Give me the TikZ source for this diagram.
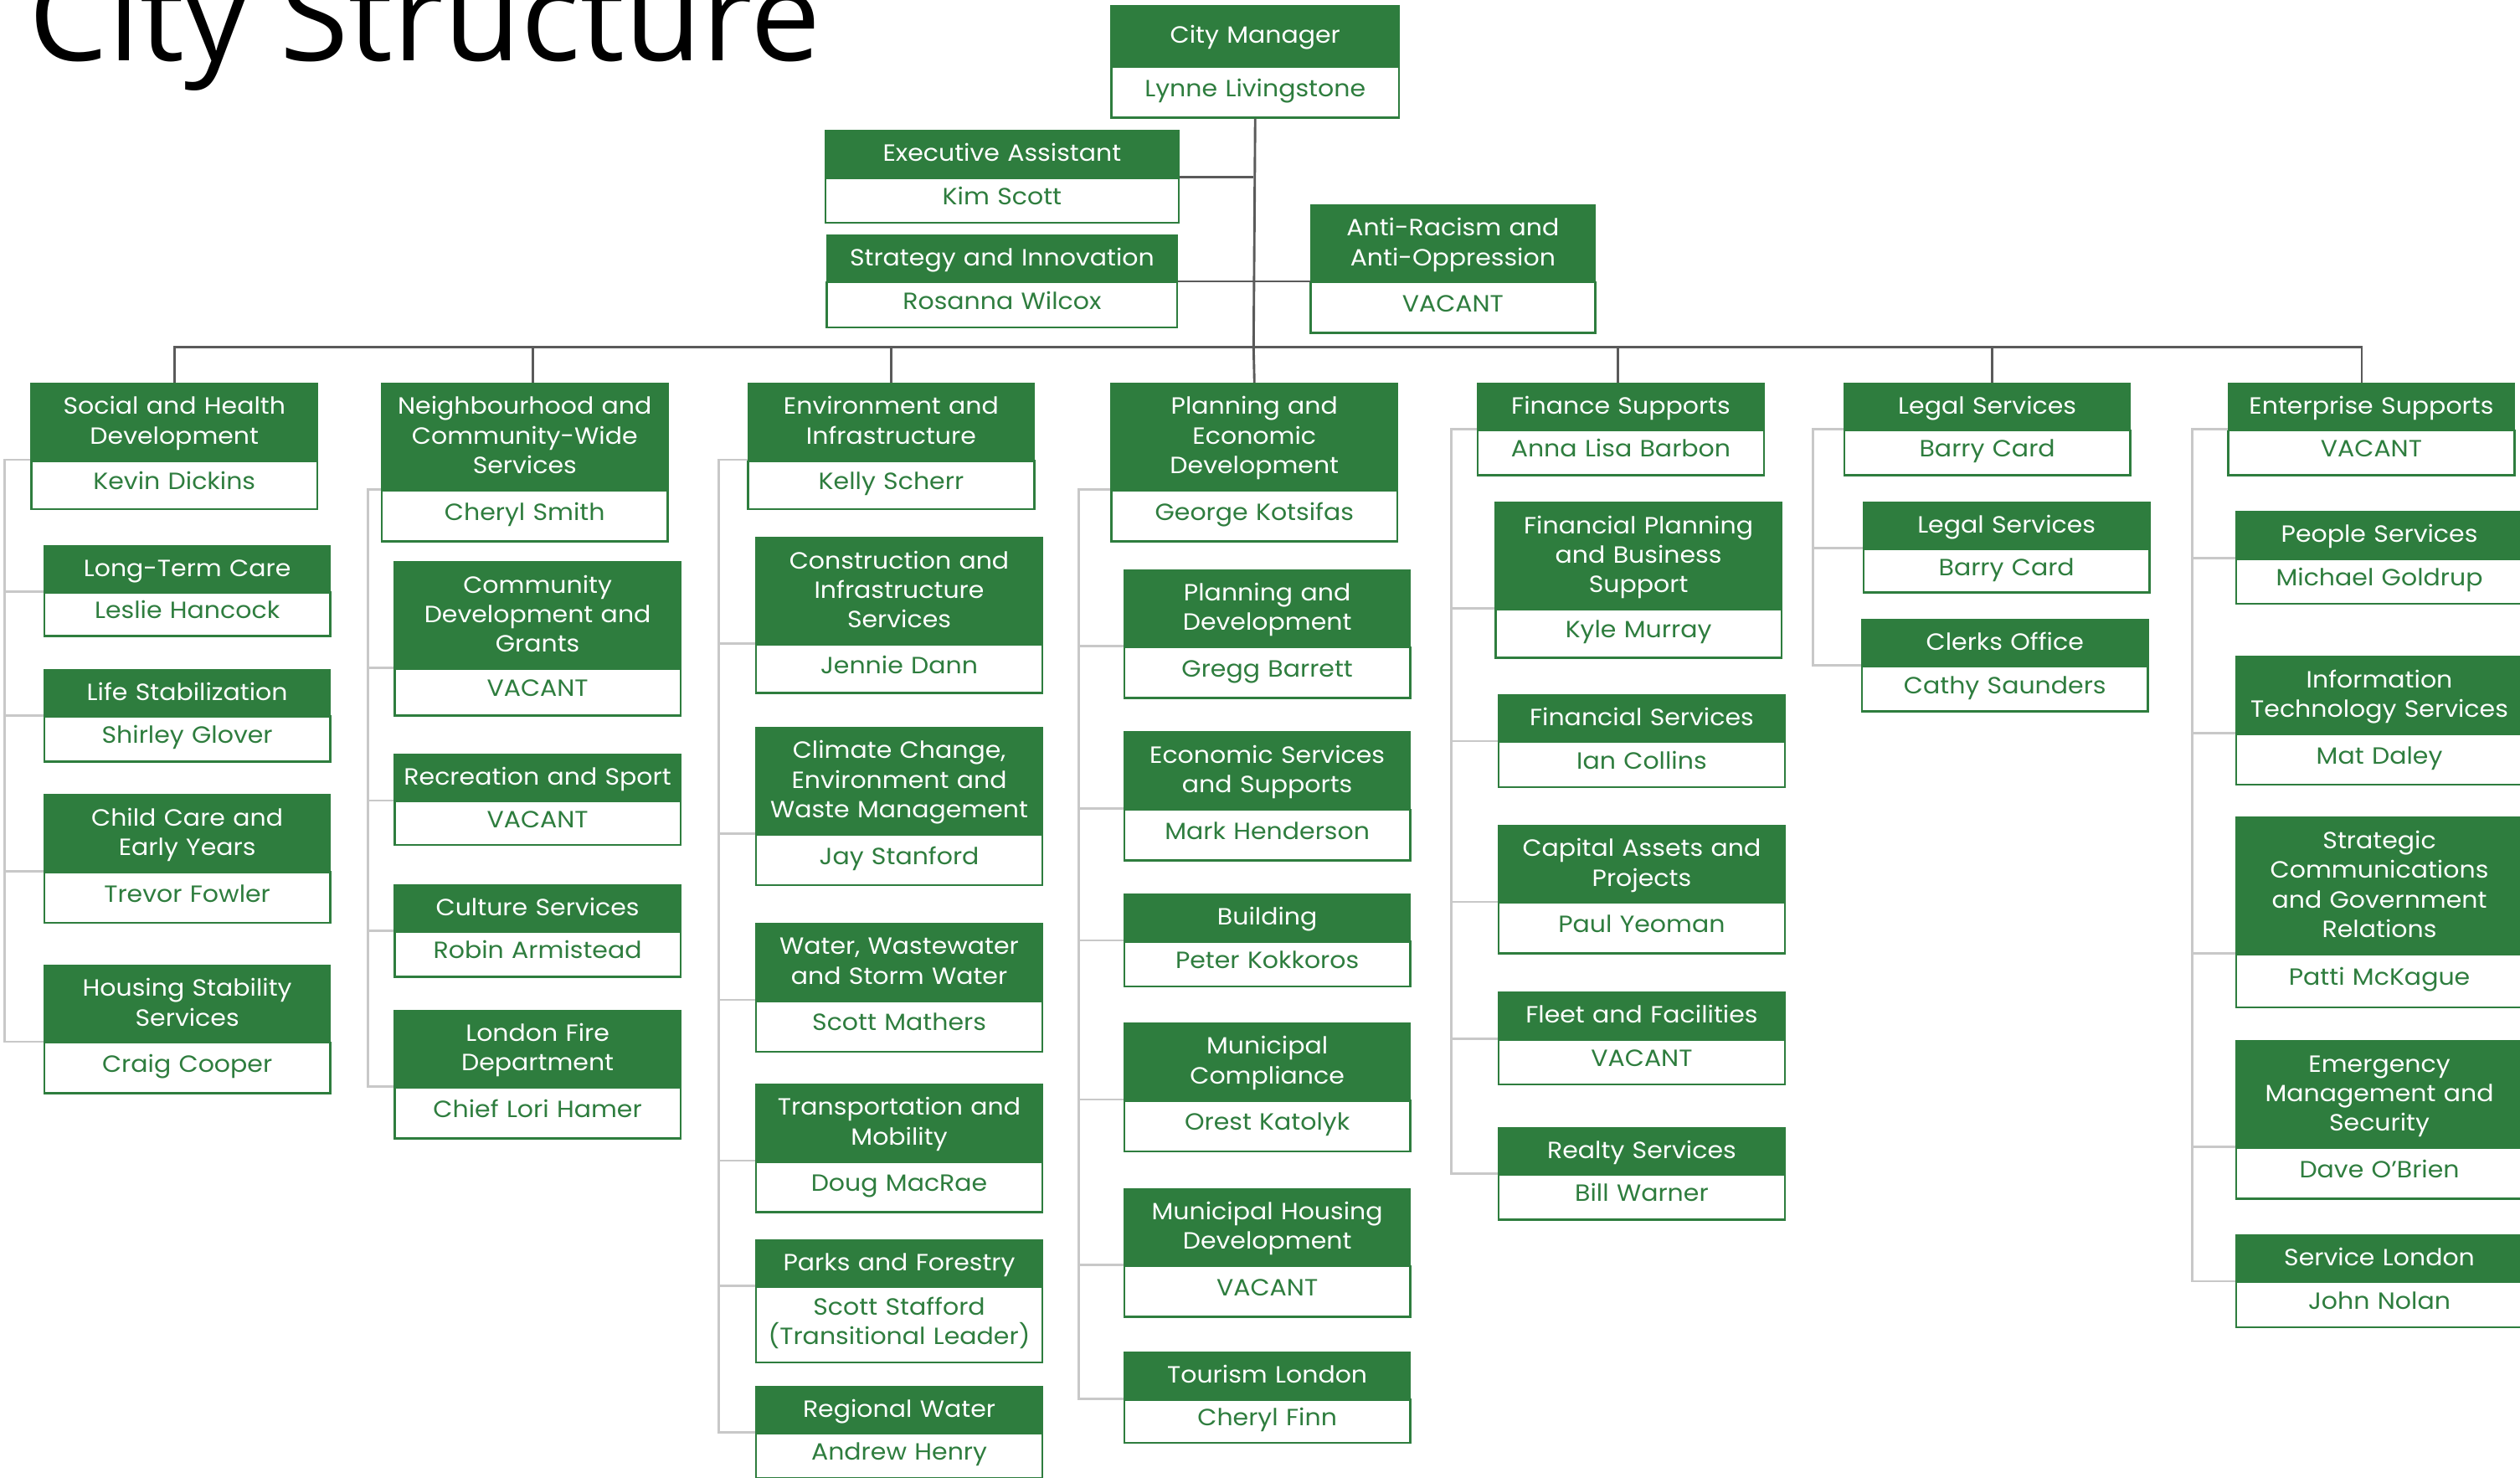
\documentclass[tikz,border=0pt]{standalone}
\usepackage{fontspec}
\setmainfont{Poppins}[FakeStretch=1.07]
\newfontfamily\titlefont{Open Sans}
\usetikzlibrary{positioning}

\definecolor{orggreen}{RGB}{46,125,62}
\definecolor{busgray}{RGB}{90,90,90}
\definecolor{linkgray}{RGB}{200,200,200}

\tikzset{
  head/.style={anchor=north west, fill=orggreen, draw=orggreen, line width=1pt, text=white,
    text width=172pt, inner xsep=3pt, inner ysep=1pt, align=center, minimum height=28pt,
    text height=12pt, text depth=2pt, font=\fontsize{14.6}{18.4}\selectfont},
  who/.style={fill=white, draw=orggreen, line width=1.3pt, text=orggreen,
    text width=172pt, inner xsep=3pt, inner ysep=1pt, align=center, minimum height=28pt,
    text height=12pt, text depth=6.5pt, font=\fontsize{14.6}{18.4}\selectfont},
  hdtwo/.style={minimum height=47pt, text depth=20.4pt},
  hdthree/.style={minimum height=65.5pt, text depth=38.8pt},
  hdfour/.style={minimum height=84pt, text depth=57.2pt},
  nametall/.style={minimum height=31.5pt},
  bus/.style={draw=busgray, line width=1.5pt},
  link/.style={draw=linkgray, line width=1.5pt}
}

\begin{document}
\begin{tikzpicture}[x=1pt, y=-1pt]
\useasboundingbox (0,0) rectangle (1568,919);

\node[anchor=base west, inner sep=0pt, font=\titlefont\fontsize{78}{82}\selectfont] (title) at (18,38) {City Structure};

% top of the chart
\node[head, text width=173pt, minimum height=37pt] (cm) at (691,3) {City Manager};
\node[who, text width=173pt, nametall, below=0pt of cm] (cmn) {Lynne Livingstone};
\node[head, text width=214pt] (ea) at (513,81) {Executive Assistant};
\node[who, text width=214pt, below=0pt of ea] (ean) {Kim Scott};
\node[head, text width=212pt] (si) at (514,146) {Strategy and Innovation};
\node[who, text width=212pt, below=0pt of si] (sin) {Rosanna Wilcox};
\node[head, text width=171pt, hdtwo] (ar) at (815,127) {Anti-Racism and\\Anti-Oppression};
\node[who, text width=171pt, nametall, below=0pt of ar] (arn) {VACANT};

% social and health
\node[head, hdtwo] (sh) at (19,238) {Social and Health\\Development};
\node[who, minimum height=30pt, below=0pt of sh] (shn) {Kevin Dickins};
\node[head] (lt) at (27,339) {Long-Term Care};
\node[who, minimum height=27pt, below=0pt of lt] (ltn) {Leslie Hancock};
\node[head] (ls) at (27,416) {Life Stabilization};
\node[who, below=0pt of ls] (lsn) {Shirley Glover};
\node[head, hdtwo] (cc) at (27,494) {Child Care and\\Early Years};
\node[who, nametall, below=0pt of cc] (ccn) {Trevor Fowler};
\node[head, hdtwo] (hs) at (27,600) {Housing Stability\\Services};
\node[who, nametall, below=0pt of hs] (hsn) {Craig Cooper};

% neighbourhood
\node[head, hdthree] (nb) at (237,238) {Neighbourhood and\\Community-Wide\\Services};
\node[who, nametall, below=0pt of nb] (nbn) {Cheryl Smith};
\node[head, hdthree] (cd) at (245,349) {Community\\Development and\\Grants};
\node[who, minimum height=29pt, below=0pt of cd] (cdn) {VACANT};
\node[head] (rs) at (245,469) {Recreation and Sport};
\node[who, minimum height=27pt, below=0pt of rs] (rsn) {VACANT};
\node[head] (cs) at (245,550) {Culture Services};
\node[who, below=0pt of cs] (csn) {Robin Armistead};
\node[head, hdtwo] (lf) at (245,628) {London Fire\\Department};
\node[who, nametall, below=0pt of lf] (lfn) {Chief Lori Hamer};

% environment
\node[head, hdtwo] (ei) at (465,238) {Environment and\\Infrastructure};
\node[who, minimum height=30pt, below=0pt of ei] (ein) {Kelly Scherr};
\node[head, hdthree] (ci) at (470,334) {Construction and\\Infrastructure\\Services};
\node[who, minimum height=30pt, below=0pt of ci] (cin) {Jennie Dann};
\node[head, hdthree] (cw) at (470,452) {Climate Change,\\Environment and\\Waste Management};
\node[who, nametall, below=0pt of cw] (cwn) {Jay Stanford};
\node[head, hdtwo] (ww) at (470,574) {Water, Wastewater\\and Storm Water};
\node[who, nametall, below=0pt of ww] (wwn) {Scott Mathers};
\node[head, hdtwo] (tm) at (470,674) {Transportation and\\Mobility};
\node[who, nametall, below=0pt of tm] (tmn) {Doug MacRae};
\node[head] (pf) at (470,771) {Parks and Forestry};
\node[who, hdtwo, text depth=24.5pt, below=0pt of pf] (pfn) {Scott Stafford\\(Transitional Leader)};
\node[head] (rw) at (470,862) {Regional Water};
\node[who, below=0pt of rw] (rwn) {Andrew Henry};

% planning
\node[head, hdthree] (pe) at (691,238) {Planning and\\Economic\\Development};
\node[who, nametall, below=0pt of pe] (pen) {George Kotsifas};
\node[head, hdtwo] (pd) at (699,354) {Planning and\\Development};
\node[who, nametall, below=0pt of pd] (pdn) {Gregg Barrett};
\node[head, hdtwo] (es) at (699,455) {Economic Services\\and Supports};
\node[who, nametall, below=0pt of es] (esn) {Mark Henderson};
\node[head] (bd) at (699,556) {Building};
\node[who, below=0pt of bd] (bdn) {Peter Kokkoros};
\node[head, hdtwo] (mc) at (699,636) {Municipal\\Compliance};
\node[who, nametall, below=0pt of mc] (mcn) {Orest Katolyk};
\node[head, hdtwo] (mh) at (699,739) {Municipal Housing\\Development};
\node[who, nametall, below=0pt of mh] (mhn) {VACANT};
\node[head] (tl) at (699,841) {Tourism London};
\node[who, minimum height=27pt, below=0pt of tl] (tln) {Cheryl Finn};

% finance
\node[head] (fs) at (919,238) {Finance Supports};
\node[who, below=0pt of fs] (fsn) {Anna Lisa Barbon};
\node[head, hdthree] (fp) at (930,312) {Financial Planning\\and Business\\Support};
\node[who, minimum height=30pt, below=0pt of fp] (fpn) {Kyle Murray};
\node[head] (fn) at (932,432) {Financial Services};
\node[who, below=0pt of fn] (fnn) {Ian Collins};
\node[head, hdtwo] (ca) at (932,513) {Capital Assets and\\Projects};
\node[who, nametall, below=0pt of ca] (can) {Paul Yeoman};
\node[head] (ff) at (932,617) {Fleet and Facilities};
\node[who, below=0pt of ff] (ffn) {VACANT};
\node[head] (rl) at (932,701) {Realty Services};
\node[who, below=0pt of rl] (rln) {Bill Warner};

% legal
\node[head] (lg) at (1147,238) {Legal Services};
\node[who, below=0pt of lg] (lgn) {Barry Card};
\node[head] (lh) at (1159,312) {Legal Services};
\node[who, minimum height=27pt, below=0pt of lh] (lhn) {Barry Card};
\node[head] (co) at (1158,385) {Clerks Office};
\node[who, below=0pt of co] (con) {Cathy Saunders};

% enterprise
\node[head] (ep) at (1386,238) {Enterprise Supports};
\node[who, below=0pt of ep] (epn) {VACANT};
\node[head] (ps) at (1391,318) {People Services};
\node[who, below=0pt of ps] (psn) {Michael Goldrup};
\node[head, hdtwo] (it) at (1391,408) {Information\\Technology Services};
\node[who, nametall, below=0pt of it] (itn) {Mat Daley};
\node[head, hdfour] (sc) at (1391,508) {Strategic\\Communications\\and Government\\Relations};
\node[who, minimum height=33pt, below=0pt of sc] (scn) {Patti McKague};
\node[head, hdthree] (em) at (1391,647) {Emergency\\Management and\\Security};
\node[who, nametall, below=0pt of em] (emn) {Dave O’Brien};
\node[head] (sl) at (1391,768) {Service London};
\node[who, below=0pt of sl] (sln) {John Nolan};

% main lines
\coordinate (hub) at (780,216);
\draw[bus] (cmn.south) -- (hub);
\draw[bus] (ea.south east) -- (ea.south east -| hub);
\draw[bus] (si.south east) -- (ar.south west);
\draw[bus] (sh.north) |- (hub) -| ([xshift=-6pt]ep.north);
\draw[bus] ([xshift=5pt]nb.north) -- ([xshift=5pt]nb.north |- hub);
\draw[bus] (ei.north) -- (ei.north |- hub);
\draw[bus] (pe.north) -- (hub);
\draw[bus] ([xshift=-2pt]fs.north) -- ([xshift=-2pt]fs.north |- hub);
\draw[bus] ([xshift=3pt]lg.north) -- ([xshift=3pt]lg.north |- hub);

% column lines
\coordinate (c1) at (3,0);
\draw[link] (sh.south west) -| (hs.south west -| c1) -- (hs.south west);
\draw[link] (lt.south west) -- (lt.south west -| c1);
\draw[link] (ls.south west) -- (ls.south west -| c1);
\draw[link] (cc.south west) -- (cc.south west -| c1);

\coordinate (c2) at (229,0);
\draw[link] (nb.south west) -| (lf.south west -| c2) -- (lf.south west);
\draw[link] (cd.south west) -- (cd.south west -| c2);
\draw[link] (rs.south west) -- (rs.south west -| c2);
\draw[link] (cs.south west) -- (cs.south west -| c2);

\coordinate (c3) at (447,0);
\draw[link] (ei.south west) -| (rw.south west -| c3) -- (rw.south west);
\draw[link] (ci.south west) -- (ci.south west -| c3);
\draw[link] (cw.south west) -- (cw.south west -| c3);
\draw[link] (ww.south west) -- (ww.south west -| c3);
\draw[link] (tm.south west) -- (tm.south west -| c3);
\draw[link] (pf.south west) -- (pf.south west -| c3);

\coordinate (c4) at (671,0);
\draw[link] (pe.south west) -| (tl.south west -| c4) -- (tl.south west);
\draw[link] (pd.south west) -- (pd.south west -| c4);
\draw[link] (es.south west) -- (es.south west -| c4);
\draw[link] (bd.south west) -- (bd.south west -| c4);
\draw[link] (mc.south west) -- (mc.south west -| c4);
\draw[link] (mh.south west) -- (mh.south west -| c4);

\coordinate (c5) at (903,0);
\draw[link] (fs.south west) -| (rl.south west -| c5) -- (rl.south west);
\draw[link] (fp.south west) -- (fp.south west -| c5);
\draw[link] (fn.south west) -- (fn.south west -| c5);
\draw[link] (ca.south west) -- (ca.south west -| c5);
\draw[link] (ff.south west) -- (ff.south west -| c5);

\coordinate (c6) at (1128,0);
\draw[link] (lg.south west) -| (co.south west -| c6) -- (co.south west);
\draw[link] (lh.south west) -- (lh.south west -| c6);

\coordinate (c7) at (1364,0);
\draw[link] (ep.south west) -| (sl.south west -| c7) -- (sl.south west);
\draw[link] (ps.south west) -- (ps.south west -| c7);
\draw[link] (it.south west) -- (it.south west -| c7);
\draw[link] (sc.south west) -- (sc.south west -| c7);
\draw[link] (em.south west) -- (em.south west -| c7);
\end{tikzpicture}
\end{document}
